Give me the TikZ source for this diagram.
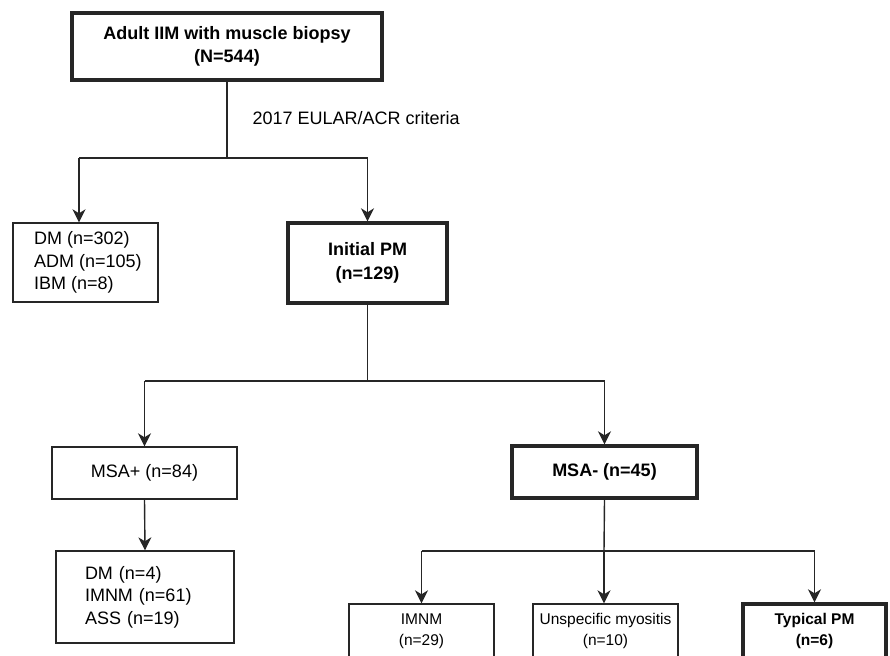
\documentclass[tikz,border=0pt]{standalone}
\usepackage{fontspec}
\setmainfont{Liberation Sans}
\usetikzlibrary{arrows.meta}

\begin{document}
\begin{tikzpicture}[x=1pt, y=-1pt,
    box/.style={draw=black!85, line width=1.4pt, inner sep=0pt, align=center, font=\fontsize{18}{22.5}\selectfont},
    heavybox/.style={box, line width=3.4pt, font=\fontsize{18}{23.5}\selectfont\bfseries},
    small/.style={font=\fontsize{15.5}{21}\selectfont},
    smallbold/.style={font=\fontsize{15.5}{21}\selectfont\bfseries},
    arrow/.style={draw=black!85, line width=1.4pt, -{Stealth[length=13pt, width=13pt, inset=4pt]}},
    link/.style={draw=black!85, line width=1.4pt}]
\useasboundingbox (0,0) rectangle (890,655);
\clip (0,0) rectangle (890,655);
\fill[white] (0,0) rectangle (890,655);

% cohort
\node[heavybox, minimum width=310pt, minimum height=67pt] (cohort) at (227,46.5) {Adult IIM with muscle biopsy\\(N=544)};
\node[anchor=west, font=\fontsize{18}{22}\selectfont] (criteria) at (249,118) {2017 EULAR/ACR criteria};

% first split
\node[box, align=left, minimum width=145pt, minimum height=79pt] (other) at (85.5,262.5) {\hspace*{5pt}DM (n=302)\\\hspace*{5pt}ADM (n=105)\\\hspace*{5pt}IBM (n=8)};
\node[heavybox, minimum width=159pt, minimum height=80pt] (initpm) at (367.5,263) {Initial PM\\(n=129)};
\coordinate (split1) at (227,158);
\coordinate (split1l) at (79,158);
\draw[link] (cohort.south) -- (split1);
\draw[link] (split1l) -- (split1 -| initpm.north);
\draw[arrow] (split1l) -- (split1l |- other.north);
\draw[arrow] (split1 -| initpm.north) -- (initpm.north);

% MSA
\node[box, minimum width=185pt, minimum height=52pt] (msapos) at (144.5,473) {MSA+ (n=84)};
\node[heavybox, minimum width=185pt, minimum height=52pt] (msaneg) at (604.5,472) {MSA- (n=45)};
\coordinate (split2) at (367.5,381);
\draw[link] (initpm.south) -- (split2);
\draw[link] (split2 -| msapos.north) -- (split2 -| msaneg.north);
\draw[arrow] (split2 -| msapos.north) -- (msapos.north);
\draw[arrow] (split2 -| msaneg.north) -- (msaneg.north);

% MSA+ subgroups
\node[box, align=left, text width=120pt, inner xsep=29pt, minimum height=92pt] (msasub) at (145,597) {DM (n=4)\\IMNM (n=61)\\ASS (n=19)};
\draw[arrow] (msapos.south) -- (msasub.north);

% MSA- subgroups
\node[box, small, minimum width=145pt, minimum height=54pt] (imnm) at (421.5,631) {IMNM\\(n=29)};
\node[box, small, minimum width=145pt, minimum height=54pt] (unspec) at (605.5,631) {Unspecific myositis\\(n=10)};
\node[heavybox, smallbold, minimum width=143pt, minimum height=54pt] (typpm) at (814.5,631) {Typical PM\\(n=6)};
\coordinate (split3) at (604,551);
\draw[link] (msaneg.south) -- (split3);
\draw[link] (split3 -| imnm.north) -- (split3 -| typpm.north);
\draw[arrow] (split3 -| imnm.north) -- (imnm.north);
\draw[arrow] (split3) -- (split3 |- unspec.north);
\draw[arrow] (split3 -| typpm.north) -- (typpm.north);
\end{tikzpicture}
\end{document}
